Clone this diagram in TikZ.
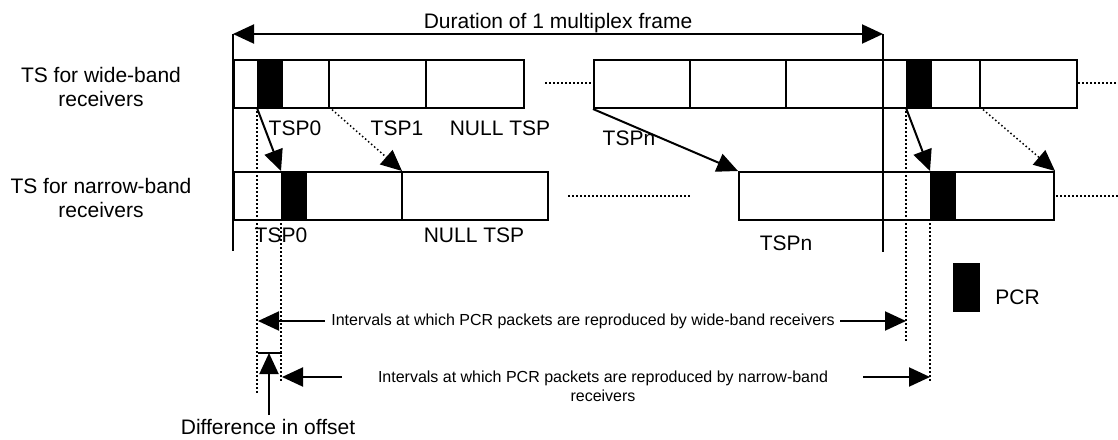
\documentclass[tikz,border=0pt]{standalone}
\usepackage{fontspec}
\setmainfont{Liberation Sans}
\usetikzlibrary{arrows.meta}
\begin{document}
\begin{tikzpicture}[x=0.5pt,y=-0.5pt,
  rowbox/.style={draw, line width=1pt, inner sep=0pt, anchor=north west},
  pcrbox/.style={fill=black, draw=black, line width=0.5pt, inner sep=0pt, anchor=north west, minimum width=12.5pt, minimum height=24pt},
  ln/.style={line width=1pt},
  thinln/.style={line width=0.8pt},
  dotln/.style={line width=0.75pt, dash pattern=on 0.75pt off 1.25pt},
  tip/.tip={Triangle[length=10.5pt,width=9.5pt]},
  arr/.style={line width=1pt, -tip},
  darr/.style={dotln, -tip},
  lbl/.style={font=\fontsize{10.5}{12}\selectfont, inner sep=0pt},
  sm/.style={font=\fontsize{8}{9.5}\selectfont, inner sep=0pt, align=center}
]
\useasboundingbox (0,0) rectangle (1118,439);

% ---- title and frame arrow
\coordinate (fLt) at (233,34);
\coordinate (fRt) at (883,34);
\coordinate (fLb) at (233,251);
\coordinate (fRb) at (883,252);
\node[lbl, anchor=base] (title) at (558,28) {Duration of 1 multiplex frame};

% ---- left labels
\node[lbl, align=center] (lw) at (101,87) {TS for wide-band\\receivers};
\node[lbl, align=center] (ln) at (101,198) {TS for narrow-band\\receivers};

% ---- wide-band row
\node[rowbox, minimum width=145pt, minimum height=24pt] (wA) at (233,59) {};
\node[rowbox, minimum width=241.5pt, minimum height=24pt] (wB) at (593,59) {};
\draw[ln] (329,59) -- (329,107);
\draw[ln] (426,59) -- (426,107);
\draw[ln] (690,59) -- (690,107);
\draw[ln] (786,59) -- (786,107);
\draw[ln] (980,59) -- (980,107);
\node[pcrbox] (wp0) at (257,59) {};
\node[pcrbox] (wp1) at (906,59) {};
\coordinate (wd1a) at (545,83); \coordinate (wd1b) at (591,83);
\coordinate (wd2a) at (1078,83); \coordinate (wd2b) at (1118,83);
\draw[dotln] (wd1a) -- (wd1b);
\draw[dotln] (wd2a) -- (wd2b);

% ---- narrow-band row
\node[rowbox, minimum width=157pt, minimum height=24pt] (nA) at (233,171) {};
\node[rowbox, minimum width=157.5pt, minimum height=24pt] (nB) at (738,171) {};
\draw[ln] (402,171) -- (402,219);
\node[pcrbox] (np0) at (281,171) {};
\node[pcrbox] (np1) at (930,171) {};
\coordinate (nd1a) at (568,196); \coordinate (nd1b) at (690,196);
\coordinate (nd2a) at (1056,196); \coordinate (nd2b) at (1118,196);
\draw[dotln] (nd1a) -- (nd1b);
\draw[dotln] (nd2a) -- (nd2b);

% ---- frame lines
\draw[ln] (fLt) -- (fLb);
\draw[ln] (fRt) -- (fRb);
\draw[ln, tip-tip] (fLt) -- (fRt);

% ---- packet labels
\node[lbl] (t0w) at (295,128) {TSP0};
\node[lbl] (t1w) at (397,128) {TSP1};
\node[lbl] (tnullw) at (500,128) {NULL TSP};
\node[lbl] (tnw) at (629,138) {TSPn};
\node[lbl] (t0n) at (281,235) {TSP0};
\node[lbl] (tnulln) at (474,235) {NULL TSP};
\node[lbl] (tnn) at (786,243) {TSPn};

% ---- mapping arrows
\draw[arr] (wp0.south west) -- (np0.north west);
\draw[darr] (329,107) -- (nA.north west -| 402,0);
\draw[arr] (wB.south west) -- (nB.north west);
\draw[arr] (wp1.south west) -- (np1.north west);
\draw[darr] (980,107) -- (nB.north east);

% ---- vertical dotted guides
\coordinate (v1a) at (257,107); \coordinate (v1b) at (257,393);
\coordinate (v2a) at (281,219); \coordinate (v2b) at (281,382);
\coordinate (v3a) at (906,107); \coordinate (v3b) at (906,343);
\coordinate (v4a) at (930,219); \coordinate (v4b) at (930,382);
\draw[dotln] (v1a) -- (v1b);
\draw[dotln] (v2a) -- (v2b);
\draw[dotln] (v3a) -- (v3b);
\draw[dotln] (v4a) -- (v4b);

% ---- legend
\node[pcrbox, minimum width=13pt] (leg) at (953,263) {};
\node[lbl, anchor=west] (legt) at (995,297) {PCR};

% ---- intervals, wide
\node[sm] (iw) at (583,321) {Intervals at which PCR packets are reproduced by wide-band receivers};
\coordinate (iwL) at (258,321);
\coordinate (iwR) at (906,321);
\draw[arr] (iw.west) ++(-6,0) -- (iwL);
\draw[arr] (iw.east) ++(5,0) -- (iwR);

% ---- intervals, narrow
\node[sm] (in) at (603,386) {Intervals at which PCR packets are reproduced by narrow-band\\receivers};
\coordinate (inL) at (282,377);
\coordinate (inR) at (930,377);
\coordinate (inLs) at (342,377);
\coordinate (inRs) at (863,377);
\draw[arr] (inLs) -- (inL);
\draw[arr] (inRs) -- (inR);

% ---- difference in offset
\coordinate (bkL) at (258,353);
\coordinate (bkR) at (282,353);
\draw[thinln] (bkL) -- (bkR);
\node[lbl] (diff) at (268,427) {Difference in offset};
\coordinate (dfA) at (269,415);
\coordinate (dfT) at (269,353);
\draw[arr] (dfA) -- (dfT);
\end{tikzpicture}
\end{document}
